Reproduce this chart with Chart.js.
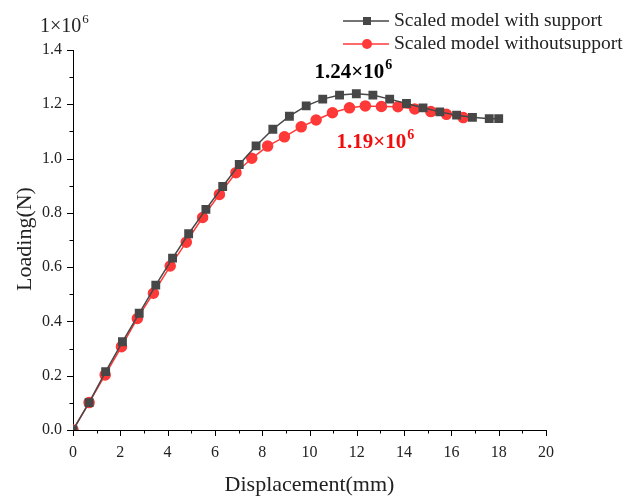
<!DOCTYPE html>
<html><head><meta charset="utf-8">
<script src="https://cdn.jsdelivr.net/npm/chart.js@4.4.0/dist/chart.umd.min.js"></script>
<style>html,body{margin:0;padding:0;background:#fff}</style>
</head><body>
<canvas id="c" width="624" height="501"></canvas>
<script>
const withX = [0,0.68,1.38,2.09,2.80,3.50,4.21,4.89,5.62,6.33,7.03,7.74,8.45,9.15,9.86,10.56,11.27,11.98,12.68,13.39,14.10,14.80,15.51,16.22,16.89,17.60,18.0];
const withY = [0,0.101,0.215,0.325,0.430,0.534,0.633,0.723,0.813,0.897,0.978,1.047,1.108,1.156,1.194,1.219,1.234,1.239,1.234,1.219,1.203,1.187,1.172,1.160,1.152,1.147,1.147];
const withoutX = [0,0.68,1.36,2.05,2.72,3.40,4.11,4.79,5.48,6.19,6.89,7.56,8.23,8.94,9.65,10.28,10.97,11.69,12.36,13.04,13.74,14.45,15.13,15.79,16.50];
const withoutY = [0,0.101,0.203,0.307,0.411,0.504,0.604,0.692,0.783,0.868,0.948,1.001,1.046,1.080,1.117,1.142,1.169,1.187,1.194,1.192,1.191,1.183,1.173,1.163,1.151];
const seriesNames = ['Scaled model with support','Scaled model withoutsupport'];
const xTicks = [0,2,4,6,8,10,12,14,16,18,20];
const yTicks = [0,0.2,0.4,0.6,0.8,1.0,1.2,1.4];
const peakLabels = [{x:10.21,y:1.297,t:'1.24×10',c:'#000'},{x:11.14,y:1.039,t:'1.19×10',c:'#f20d0d'}];

const BLACK='#474747', RED='#ff3838';
const FONT='"Liberation Serif","Times New Roman",serif';

const pts=(xs,ys)=>xs.map((x,i)=>({x,y:ys[i]}));

const deco = {
  id:'deco',
  afterDraw(chart){
    const ctx=chart.ctx, xs=chart.scales.x, ys=chart.scales.y;
    const x0=xs.left, y0=ys.bottom;
    ctx.save();
    ctx.strokeStyle='#000'; ctx.lineWidth=1;
    for(let v=0;v<=20;v+=1){
      const px=Math.round(xs.getPixelForValue(v))+0.5;
      const len = v%2===0?6:3.5;
      ctx.beginPath(); ctx.moveTo(px,y0); ctx.lineTo(px,y0+len); ctx.stroke();
    }
    for(let i=0;i<=14;i++){
      const v=i/10;
      const py=Math.round(ys.getPixelForValue(v))+0.5;
      const len = i%2===0?6:3.5;
      ctx.beginPath(); ctx.moveTo(x0,py); ctx.lineTo(x0-len,py); ctx.stroke();
    }
    // multiplier
    ctx.fillStyle='#222';
    ctx.font='20px '+FONT; ctx.textBaseline='alphabetic'; ctx.textAlign='left';
    ctx.fillText('1×10',40,32);
    let w=ctx.measureText('1×10').width;
    ctx.font='13px '+FONT; ctx.fillText('6',40+w+1,23);
    // axis titles
    ctx.font='22px '+FONT; ctx.textAlign='center'; ctx.textBaseline='middle';
    ctx.fillText('Displacement(mm)',(xs.left+xs.right)/2,485);
    ctx.save(); ctx.translate(25,239); ctx.rotate(-Math.PI/2);
    ctx.fillText('Loading(N)',0,0); ctx.restore();
    // peak labels
    peakLabels.forEach(p=>{
      const left=xs.getPixelForValue(p.x), base=ys.getPixelForValue(p.y);
      ctx.fillStyle=p.c; ctx.textAlign='left'; ctx.textBaseline='alphabetic';
      ctx.font='bold 21px '+FONT; ctx.fillText(p.t,left,base);
      const tw=ctx.measureText(p.t).width;
      ctx.font='bold 14px '+FONT; ctx.fillText('6',left+tw+1,base-9);
    });
    // legend
    const rows=[{c:BLACK,shape:'sq',y:21},{c:RED,shape:'ci',y:44}];
    rows.forEach((r,i)=>{
      ctx.strokeStyle=r.c; ctx.lineWidth=1.5;
      ctx.beginPath(); ctx.moveTo(343,r.y); ctx.lineTo(389,r.y); ctx.stroke();
      ctx.fillStyle=r.c;
      if(r.shape==='sq'){ ctx.fillRect(363,r.y-4,8,8); }
      else { ctx.beginPath(); ctx.arc(367,r.y,5,0,Math.PI*2); ctx.fill(); }
      ctx.fillStyle='#222'; ctx.font='19.5px '+FONT; ctx.textAlign='left'; ctx.textBaseline='middle';
      ctx.fillText(seriesNames[i],394,r.y);
    });
    ctx.restore();
  }
};

new Chart(document.getElementById('c'),{
  type:'scatter',
  data:{datasets:[
    {label:seriesNames[0],data:pts(withX,withY),showLine:true,borderColor:BLACK,backgroundColor:BLACK,borderWidth:1.5,pointStyle:'rect',pointRadius:5.2,pointHoverRadius:5.2},
    {label:seriesNames[1],data:pts(withoutX,withoutY),showLine:true,borderColor:RED,backgroundColor:RED,borderWidth:1.5,pointStyle:'circle',pointRadius:5,pointHoverRadius:5}
  ]},
  options:{
    responsive:false,animation:false,
    layout:{padding:{top:50,right:78,left:0,bottom:0}},
    plugins:{legend:{display:false},tooltip:{enabled:false}},
    scales:{
      x:{type:'linear',min:0,max:20,
        afterBuildTicks(s){s.ticks=xTicks.map(v=>({value:v}));},
        afterFit(s){s.height=71;},
        grid:{display:false,drawTicks:false},
        border:{display:true,color:'#000',width:1},
        ticks:{padding:13,color:'#222',font:{family:FONT,size:16},maxRotation:0,callback:v=>String(v)}
      },
      y:{type:'linear',min:0,max:1.4,
        afterBuildTicks(s){s.ticks=yTicks.map(v=>({value:v}));},
        afterFit(s){s.width=73;},
        grid:{display:false,drawTicks:false},
        border:{display:true,color:'#000',width:1},
        ticks:{padding:11,color:'#222',font:{family:FONT,size:16},callback:v=>Number(v).toFixed(1)}
      }
    }
  },
  plugins:[deco]
});
</script>
</body></html>
